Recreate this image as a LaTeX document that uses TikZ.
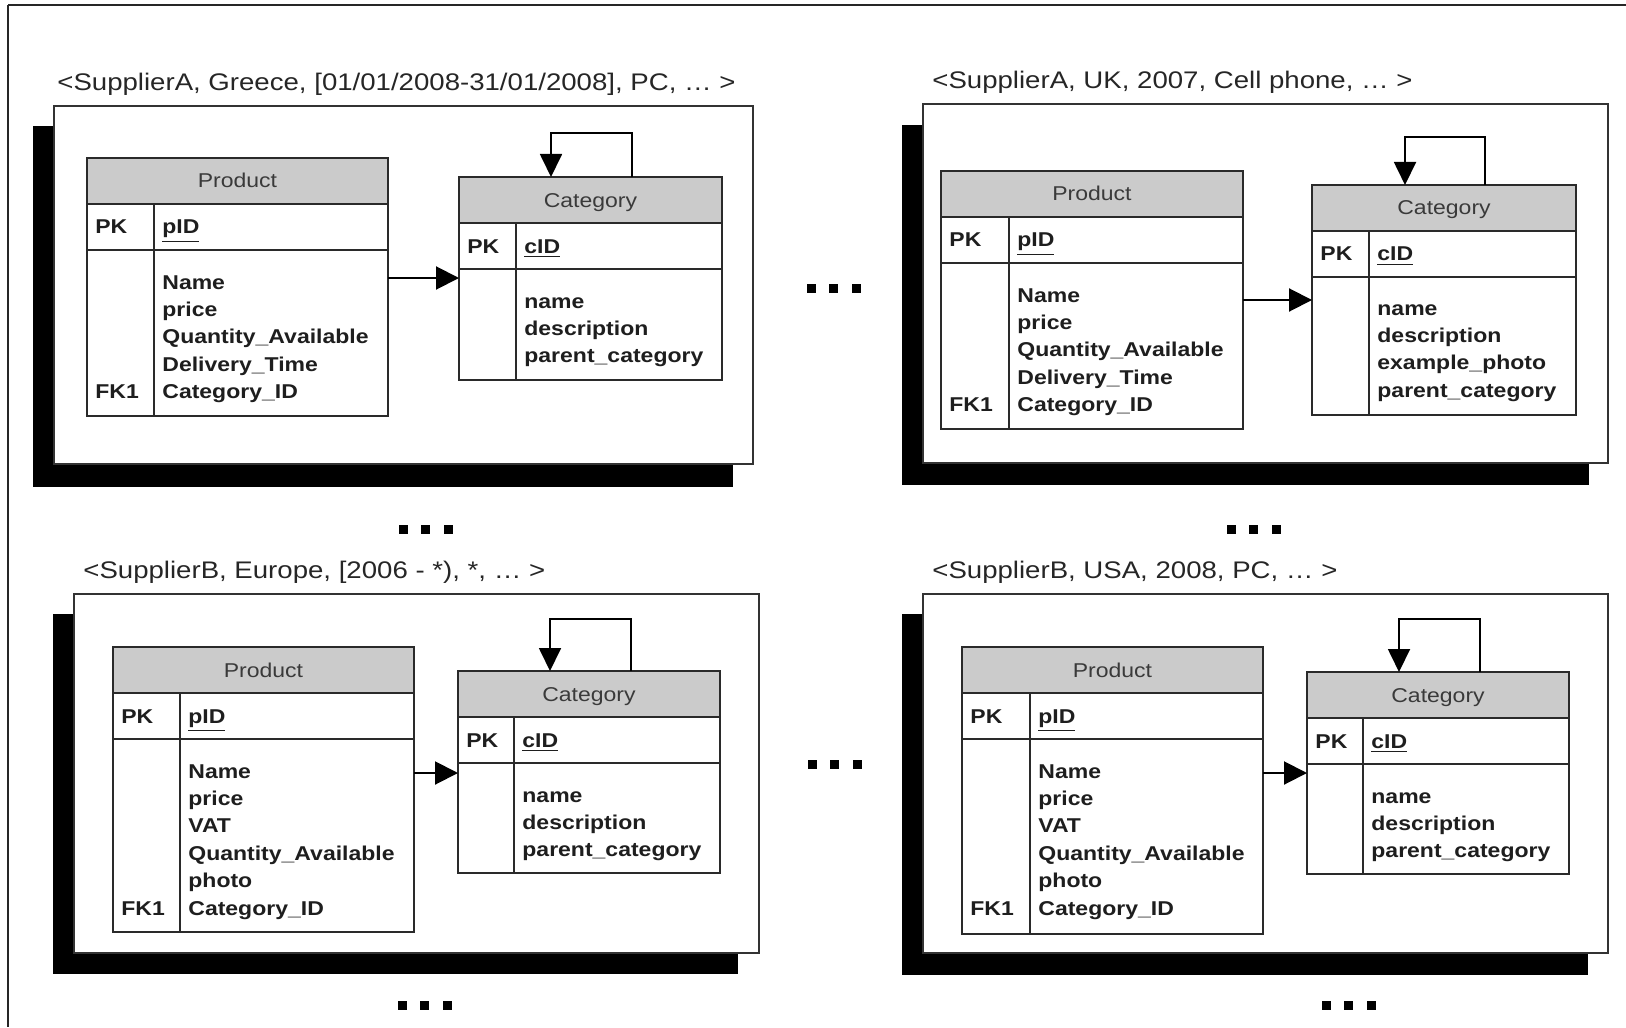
\documentclass[tikz,border=0pt]{standalone}
\usepackage{fontspec}
\setmainfont{Liberation Sans}[FakeStretch=1.15]
\usetikzlibrary{arrows.meta}
\definecolor{hdrgray}{HTML}{CBCBCB}
\definecolor{ink}{HTML}{1E1E1E}
\definecolor{hdrink}{HTML}{3A3A3A}
\definecolor{lineink}{HTML}{2A2A2A}
\tikzset{
 tabbox/.style={draw=lineink, line width=0.8pt, inner sep=0pt, outer sep=0pt, rectangle},
 tabline/.style={draw=lineink, line width=0.8pt},
 hdrtext/.style={text=hdrink, font=\fontsize{10pt}{12pt}\selectfont, inner sep=0pt},
 fld/.style={text=ink, font=\fontsize{10pt}{12pt}\selectfont\bfseries, inner sep=0pt, anchor=base west},
 ttl/.style={text=black!85, font=\fontsize{12pt}{14pt}\selectfont, inner sep=0pt, anchor=base west},
 panelbox/.style={draw=black!80, line width=0.75pt, fill=white, inner sep=0pt, outer sep=0pt, rectangle},
 shadowbox/.style={fill=black},
 arr/.style={draw=black, line width=1pt, -{Triangle[length=11.5pt,width=11.5pt]}},
 selfarr/.style={draw=black, line width=0.9pt, -{Triangle[length=11.5pt,width=11pt]}},
 dotsq/.style={fill=black},
}
% #1 name, #2 x, #3 top, #4 width, #5 divider, #6 height, #7 title, #8 key
\newcommand\ertab[8]{%
  \fill[hdrgray] (#2,#3) rectangle ++(#4,46);
  \node[tabbox, anchor=north west, minimum width=#4*0.5pt, minimum height=#6*0.5pt] (#1) at (#2,#3) {};
  \draw[tabline] (#2,#3+46) -- ++(#4,0) (#2,#3+92) -- ++(#4,0) (#2+#5,#3+46) -- (#2+#5,#3+#6);
  \node[hdrtext, anchor=base] (#1-h) at (#2+#4/2,#3+30) {#7};
  \node[fld] (#1-pk) at (#2+8,#3+76) {PK};
  \node[fld] (#1-key) at (#2+#5+8,#3+76) {\underline{#8}};
}
% #1 name, #2 text x, #3 first line centre y, #4 lines
\newcommand\erbody[4]{%
  \foreach \t [count=\i from 0] in {#4} \node[fld] (#1-f\i) at (#2,#3+\i*27.4+7) {\t};
}
\newcommand\dotrow[3]{%
  \foreach \k in {0,1,2} \fill[dotsq] (#2+\k*22.5-4.5,#3-4.5) rectangle ++(9,9);
}
\begin{document}
\begin{tikzpicture}[x=0.5pt,y=-0.5pt]
\useasboundingbox (0,0) rectangle (1626,1027);
% outer frame
\draw[line width=1.4pt, black!85] (1626,5) -- (8,5);
\draw[line width=1pt, black!85] (8,5) -- (8,1027);

% ---------- panel 1 ----------
\fill[shadowbox] (33,126) rectangle (733,487);
\node[panelbox, anchor=north west, minimum width=699*0.5pt, minimum height=358*0.5pt] (panel1) at (54,106) {};
\node[ttl] (t1) at (57,90.5) {<SupplierA, Greece, [01/01/2008-31/01/2008], PC, … >};
\ertab{p1}{87}{158}{301}{67}{258}{Product}{pID}
\erbody{p1}{162}{282}{Name,price,Quantity\_Available,Delivery\_Time,Category\_ID}
\node[fld] (p1-fk) at (95,391.6+7) {FK1};
\ertab{c1}{459}{177}{263}{57}{203}{Category}{cID}
\erbody{c1}{524}{301}{name,description,parent\_category}
\coordinate (y1) at (0,278);
\draw[arr] (p1.east |- y1) -- (c1.west |- y1);
\coordinate (l1r) at (632,133);
\coordinate (l1l) at (551,133);
\draw[selfarr] (c1.north -| l1r) -- (l1r) -- (l1l) -- (c1.north -| l1l);

% ---------- panel 2 ----------
\fill[shadowbox] (902,125) rectangle (1589,485);
\node[panelbox, anchor=north west, minimum width=685*0.5pt, minimum height=359*0.5pt] (panel2) at (923,104) {};
\node[ttl] (t2) at (932,88.5) {<SupplierA, UK, 2007, Cell phone, … >};
\ertab{p2}{941}{171}{302}{68}{258}{Product}{pID}
\erbody{p2}{1017}{295}{Name,price,Quantity\_Available,Delivery\_Time,Category\_ID}
\node[fld] (p2-fk) at (949,404.6+7) {FK1};
\ertab{c2}{1312}{185}{264}{57}{230}{Category}{cID}
\erbody{c2}{1377}{308}{name,description,example\_photo,parent\_category}
\coordinate (y2) at (0,300);
\draw[arr] (p2.east |- y2) -- (c2.west |- y2);
\coordinate (l2r) at (1485,137);
\coordinate (l2l) at (1405,137);
\draw[selfarr] (c2.north -| l2r) -- (l2r) -- (l2l) -- (c2.north -| l2l);

% ---------- panel 3 ----------
\fill[shadowbox] (53,614) rectangle (738,974);
\node[panelbox, anchor=north west, minimum width=685*0.5pt, minimum height=359*0.5pt] (panel3) at (74,594) {};
\node[ttl] (t3) at (83,578.5) {<SupplierB, Europe, [2006 - *), *, … >};
\ertab{p3}{113}{647}{301}{67}{285}{Product}{pID}
\erbody{p3}{188}{771}{Name,price,VAT,Quantity\_Available,photo,Category\_ID}
\node[fld] (p3-fk) at (121,908+7) {FK1};
\ertab{c3}{458}{671}{262}{56}{202}{Category}{cID}
\erbody{c3}{522}{795}{name,description,parent\_category}
\coordinate (y3) at (0,773);
\draw[arr] (p3.east |- y3) -- (c3.west |- y3);
\coordinate (l3r) at (631,619);
\coordinate (l3l) at (550,619);
\draw[selfarr] (c3.north -| l3r) -- (l3r) -- (l3l) -- (c3.north -| l3l);

% ---------- panel 4 ----------
\fill[shadowbox] (902,614) rectangle (1588,975);
\node[panelbox, anchor=north west, minimum width=685*0.5pt, minimum height=359*0.5pt] (panel4) at (923,594) {};
\node[ttl] (t4) at (932,578.5) {<SupplierB, USA, 2008, PC, … >};
\ertab{p4}{962}{647}{301}{68}{287}{Product}{pID}
\erbody{p4}{1038}{771}{Name,price,VAT,Quantity\_Available,photo,Category\_ID}
\node[fld] (p4-fk) at (970,908+7) {FK1};
\ertab{c4}{1307}{672}{262}{56}{202}{Category}{cID}
\erbody{c4}{1371}{796}{name,description,parent\_category}
\coordinate (y4) at (0,773);
\draw[arr] (p4.east |- y4) -- (c4.west |- y4);
\coordinate (l4r) at (1480,619);
\coordinate (l4l) at (1399,619);
\draw[selfarr] (c4.north -| l4r) -- (l4r) -- (l4l) -- (c4.north -| l4l);

% ---------- ellipsis marks ----------
\dotrow{d1}{811}{288}
\dotrow{d2}{403}{529}
\dotrow{d3}{1231}{529}
\dotrow{d4}{812}{764}
\dotrow{d5}{402}{1005}
\dotrow{d6}{1326}{1005}
\end{tikzpicture}
\end{document}
